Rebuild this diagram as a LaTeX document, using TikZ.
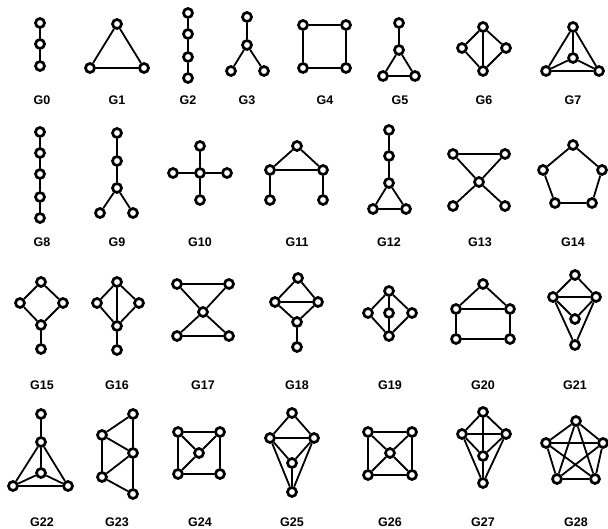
\documentclass[tikz,border=0pt]{standalone}
\usepackage{fontspec}
\setmainfont{Liberation Sans}
\usetikzlibrary{positioning}

\begin{document}
\begin{tikzpicture}[x=1pt, y=-1pt,
  v/.style={circle, draw, fill=white, line width=2.7pt, minimum size=9pt, inner sep=0pt},
  e/.style={line width=1.8pt},
  lbl/.style={font=\fontsize{12.5}{13}\selectfont\bfseries}]
\useasboundingbox (0,0) rectangle (608,529);
% row 1
\node[v] (g0a) at (40,23) {};
\node[v] (g0b) at (40,44) {};
\node[v] (g0c) at (40,66) {};
\draw[e] (g0a) -- (g0b) -- (g0c);
\node[lbl] (l0) at (42,100) {G0};

\node[v] (g1a) at (117,24) {};
\node[v] (g1b) at (90,68) {};
\node[v] (g1c) at (144,68) {};
\draw[e] (g1a) -- (g1b) -- (g1c) -- (g1a);
\node[lbl] (l1) at (117,100) {G1};

\node[v] (g2a) at (188,13) {};
\node[v] (g2b) at (188,34) {};
\node[v] (g2c) at (188,57) {};
\node[v] (g2d) at (188,78) {};
\draw[e] (g2a) -- (g2b) -- (g2c) -- (g2d);
\node[lbl] (l2) at (188,100) {G2};

\node[v] (g3a) at (247,17) {};
\node[v] (g3b) at (247,45) {};
\node[v] (g3c) at (231,71) {};
\node[v] (g3d) at (264,71) {};
\draw[e] (g3a) -- (g3b) -- (g3c);
\draw[e] (g3b) -- (g3d);
\node[lbl] (l3) at (247,100) {G3};

\node[v] (g4a) at (303,25) {};
\node[v] (g4b) at (346,25) {};
\node[v] (g4c) at (346,68) {};
\node[v] (g4d) at (303,68) {};
\draw[e] (g4a) -- (g4b) -- (g4c) -- (g4d) -- (g4a);
\node[lbl] (l4) at (325,100) {G4};

\node[v] (g5a) at (399,23) {};
\node[v] (g5b) at (399,50) {};
\node[v] (g5c) at (383,76) {};
\node[v] (g5d) at (415,76) {};
\draw[e] (g5a) -- (g5b) -- (g5c) -- (g5d) -- (g5b);
\node[lbl] (l5) at (400,100) {G5};

\node[v] (g6a) at (483,27) {};
\node[v] (g6b) at (462,48) {};
\node[v] (g6c) at (506,48) {};
\node[v] (g6d) at (483,71) {};
\draw[e] (g6a) -- (g6b) -- (g6d) -- (g6c) -- (g6a) -- (g6d);
\node[lbl] (l6) at (484,100) {G6};

\node[v] (g7a) at (573,27) {};
\node[v] (g7b) at (573,58) {};
\node[v] (g7c) at (546,71) {};
\node[v] (g7d) at (599,71) {};
\draw[e] (g7a) -- (g7c) -- (g7d) -- (g7a) -- (g7b);
\draw[e] (g7c) -- (g7b) -- (g7d);
\node[lbl] (l7) at (573,100) {G7};

% row 2
\node[v] (g8a) at (40,132) {};
\node[v] (g8b) at (40,153) {};
\node[v] (g8c) at (40,174) {};
\node[v] (g8d) at (40,197) {};
\node[v] (g8e) at (40,218) {};
\draw[e] (g8a) -- (g8b) -- (g8c) -- (g8d) -- (g8e);
\node[lbl] (l8) at (42,242) {G8};

\node[v] (g9a) at (117,133) {};
\node[v] (g9b) at (117,161) {};
\node[v] (g9c) at (117,188) {};
\node[v] (g9d) at (100,213) {};
\node[v] (g9e) at (133,213) {};
\draw[e] (g9a) -- (g9b) -- (g9c) -- (g9d);
\draw[e] (g9c) -- (g9e);
\node[lbl] (l9) at (117,242) {G9};

\node[v] (g10a) at (200,173) {};
\node[v] (g10b) at (200,146) {};
\node[v] (g10c) at (200,200) {};
\node[v] (g10d) at (173,173) {};
\node[v] (g10e) at (227,173) {};
\draw[e] (g10b) -- (g10a) -- (g10c);
\draw[e] (g10d) -- (g10a) -- (g10e);
\node[lbl] (l10) at (200,242) {G10};

\node[v] (g11a) at (297,146) {};
\node[v] (g11b) at (270,170) {};
\node[v] (g11c) at (323,170) {};
\node[v] (g11d) at (270,200) {};
\node[v] (g11e) at (323,200) {};
\draw[e] (g11a) -- (g11b) -- (g11c) -- (g11a);
\draw[e] (g11b) -- (g11d);
\draw[e] (g11c) -- (g11e);
\node[lbl] (l11) at (297,242) {G11};

\node[v] (g12a) at (389,130) {};
\node[v] (g12b) at (389,156) {};
\node[v] (g12c) at (389,183) {};
\node[v] (g12d) at (373,209) {};
\node[v] (g12e) at (406,209) {};
\draw[e] (g12a) -- (g12b) -- (g12c) -- (g12d) -- (g12e) -- (g12c);
\node[lbl] (l12) at (389,242) {G12};

\node[v] (g13a) at (453,154) {};
\node[v] (g13b) at (505,154) {};
\node[v] (g13c) at (479,182) {};
\node[v] (g13d) at (453,206) {};
\node[v] (g13e) at (505,206) {};
\draw[e] (g13a) -- (g13b) -- (g13c) -- (g13a);
\draw[e] (g13d) -- (g13c) -- (g13e);
\node[lbl] (l13) at (480,242) {G13};

\node[v] (g14a) at (573,145) {};
\node[v] (g14b) at (602,170) {};
\node[v] (g14c) at (592,203) {};
\node[v] (g14d) at (555,203) {};
\node[v] (g14e) at (543,170) {};
\draw[e] (g14a) -- (g14b) -- (g14c) -- (g14d) -- (g14e) -- (g14a);
\node[lbl] (l14) at (573,242) {G14};

% row 3
\node[v] (g15a) at (41,282) {};
\node[v] (g15b) at (20,303) {};
\node[v] (g15c) at (63,303) {};
\node[v] (g15d) at (41,325) {};
\node[v] (g15e) at (41,349) {};
\draw[e] (g15a) -- (g15b) -- (g15d) -- (g15c) -- (g15a);
\draw[e] (g15d) -- (g15e);
\node[lbl] (l15) at (42,385) {G15};

\node[v] (g16a) at (117,282) {};
\node[v] (g16b) at (97,303) {};
\node[v] (g16c) at (139,303) {};
\node[v] (g16d) at (117,326) {};
\node[v] (g16e) at (117,350) {};
\draw[e] (g16a) -- (g16b) -- (g16d) -- (g16c) -- (g16a);
\draw[e] (g16a) -- (g16d) -- (g16e);
\node[lbl] (l16) at (117,385) {G16};

\node[v] (g17a) at (177,284) {};
\node[v] (g17b) at (229,284) {};
\node[v] (g17c) at (203,312) {};
\node[v] (g17d) at (177,336) {};
\node[v] (g17e) at (229,336) {};
\draw[e] (g17a) -- (g17b) -- (g17c) -- (g17a);
\draw[e] (g17d) -- (g17c) -- (g17e) -- (g17d);
\node[lbl] (l17) at (203,385) {G17};

\node[v] (g18a) at (298,278) {};
\node[v] (g18b) at (275,302) {};
\node[v] (g18c) at (318,302) {};
\node[v] (g18d) at (297,322) {};
\node[v] (g18e) at (297,347) {};
\draw[e] (g18a) -- (g18b) -- (g18c) -- (g18a);
\draw[e] (g18b) -- (g18d) -- (g18c);
\draw[e] (g18d) -- (g18e);
\node[lbl] (l18) at (297,385) {G18};

\node[v] (g19a) at (389,291) {};
\node[v] (g19b) at (368,313) {};
\node[v] (g19c) at (389,313) {};
\node[v] (g19d) at (412,313) {};
\node[v] (g19e) at (389,336) {};
\draw[e] (g19a) -- (g19b) -- (g19e) -- (g19d) -- (g19a);
\draw[e] (g19a) -- (g19c) -- (g19e);
\node[lbl] (l19) at (390,385) {G19};

\node[v] (g20a) at (483,284) {};
\node[v] (g20b) at (456,309) {};
\node[v] (g20c) at (510,309) {};
\node[v] (g20d) at (456,339) {};
\node[v] (g20e) at (510,339) {};
\draw[e] (g20a) -- (g20b) -- (g20c) -- (g20a);
\draw[e] (g20b) -- (g20d) -- (g20e) -- (g20c);
\node[lbl] (l20) at (483,385) {G20};

\node[v] (g21a) at (575,275) {};
\node[v] (g21b) at (553,297) {};
\node[v] (g21c) at (596,297) {};
\node[v] (g21d) at (575,319) {};
\node[v] (g21e) at (575,345) {};
\draw[e] (g21a) -- (g21b) -- (g21c) -- (g21a);
\draw[e] (g21b) -- (g21d) -- (g21c);
\draw[e] (g21b) -- (g21e) -- (g21c);
\node[lbl] (l21) at (575,385) {G21};

% row 4
\node[v] (g22a) at (41,414) {};
\node[v] (g22b) at (41,442) {};
\node[v] (g22c) at (41,473) {};
\node[v] (g22d) at (13,486) {};
\node[v] (g22e) at (68,486) {};
\draw[e] (g22a) -- (g22b) -- (g22c);
\draw[e] (g22d) -- (g22b) -- (g22e) -- (g22d);
\draw[e] (g22d) -- (g22c) -- (g22e);
\node[lbl] (l22) at (42,522) {G22};

\node[v] (g23a) at (133,414) {};
\node[v] (g23b) at (102,435) {};
\node[v] (g23c) at (133,453) {};
\node[v] (g23d) at (102,477) {};
\node[v] (g23e) at (133,494) {};
\draw[e] (g23a) -- (g23b) -- (g23c) -- (g23a);
\draw[e] (g23b) -- (g23d) -- (g23c) -- (g23e) -- (g23d);
\node[lbl] (l23) at (117,522) {G23};

\node[v] (g24a) at (178,432) {};
\node[v] (g24b) at (220,432) {};
\node[v] (g24c) at (199,453) {};
\node[v] (g24d) at (178,474) {};
\node[v] (g24e) at (220,474) {};
\draw[e] (g24a) -- (g24b) -- (g24e) -- (g24d) -- (g24a);
\draw[e] (g24a) -- (g24c) -- (g24b);
\draw[e] (g24c) -- (g24d);
\node[lbl] (l24) at (200,522) {G24};

\node[v] (g25a) at (292,413) {};
\node[v] (g25b) at (270,438) {};
\node[v] (g25c) at (314,438) {};
\node[v] (g25d) at (292,463) {};
\node[v] (g25e) at (292,492) {};
\draw[e] (g25a) -- (g25b) -- (g25c) -- (g25a);
\draw[e] (g25b) -- (g25d) -- (g25c);
\draw[e] (g25b) -- (g25e) -- (g25c);
\draw[e] (g25d) -- (g25e);
\node[lbl] (l25) at (292,522) {G25};

\node[v] (g26a) at (368,432) {};
\node[v] (g26b) at (412,432) {};
\node[v] (g26c) at (390,453) {};
\node[v] (g26d) at (368,475) {};
\node[v] (g26e) at (412,475) {};
\draw[e] (g26a) -- (g26b) -- (g26e) -- (g26d) -- (g26a);
\draw[e] (g26a) -- (g26c) -- (g26e);
\draw[e] (g26b) -- (g26c) -- (g26d);
\node[lbl] (l26) at (390,522) {G26};

\node[v] (g27a) at (483,412) {};
\node[v] (g27b) at (462,434) {};
\node[v] (g27c) at (506,434) {};
\node[v] (g27d) at (483,456) {};
\node[v] (g27e) at (483,483) {};
\draw[e] (g27a) -- (g27b) -- (g27c) -- (g27a) -- (g27d);
\draw[e] (g27b) -- (g27d) -- (g27c);
\draw[e] (g27b) -- (g27e) -- (g27c);
\draw[e] (g27d) -- (g27e);
\node[lbl] (l27) at (483,522) {G27};

\node[v] (g28a) at (576,421) {};
\node[v] (g28b) at (603,443) {};
\node[v] (g28c) at (595,479) {};
\node[v] (g28d) at (557,479) {};
\node[v] (g28e) at (546,443) {};
\draw[e] (g28a) -- (g28b) -- (g28c) -- (g28d) -- (g28e) -- (g28a);
\draw[e] (g28a) -- (g28c) -- (g28e) -- (g28b) -- (g28d) -- (g28a);
\node[lbl] (l28) at (576,522) {G28};
\end{tikzpicture}
\end{document}
